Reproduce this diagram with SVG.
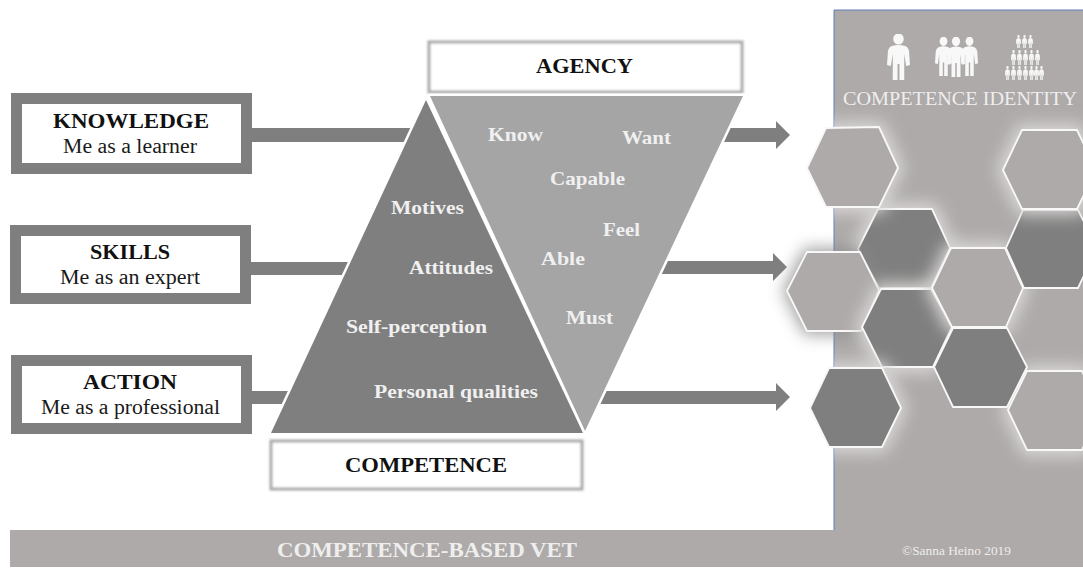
<svg xmlns="http://www.w3.org/2000/svg" width="1083" height="568" viewBox="0 0 1083 568">
<style>
text{font-family:"Liberation Serif","Times New Roman",serif;text-anchor:start}
.b{font-weight:700;font-size:22px;fill:#111}
.r{font-size:20px;fill:#1a1a1a}
.w{font-weight:700;font-size:19px;fill:#f0f0f0}
.frame{fill:#fff;stroke:#7f7f7f;stroke-width:11}
.soft{fill:#fff;stroke:#a9a9a9;stroke-width:3;filter:url(#s)}
.conn{fill:#7f7f7f}
.tri{stroke:#fff;stroke-width:5;paint-order:stroke;stroke-linejoin:round}
.glow{fill:#d9d7d6;stroke:#d9d7d6;stroke-width:12;filter:url(#g)}
.hex{stroke:#f8f8f8;stroke-width:1.8;stroke-linejoin:round}
.l{fill:#adaaa9}.d{fill:#7f7f7f}
.ic{fill:#f8f8f8}
</style>
<defs>
<filter id="s" x="-5%" y="-20%" width="110%" height="140%"><feGaussianBlur stdDeviation="0.8"/></filter>
<filter id="g" x="-40%" y="-40%" width="180%" height="180%"><feGaussianBlur stdDeviation="8"/></filter>
<filter id="sh" x="-40%" y="-40%" width="180%" height="180%"><feGaussianBlur stdDeviation="8"/></filter>
<clipPath id="pc"><rect x="834" y="10" width="249" height="520"/></clipPath>
<symbol id="p" viewBox="0 0 24 46" preserveAspectRatio="none"><circle cx="12" cy="5" r="5.500"/><path d="M5 12Q12 10 19 12Q22 13 23 17L24 31L20 32L18 20L18 46L13 46L13 30L11 30L11 46L6 46L6 20L4 32L0 31L1 17Q2 13 5 12Z"/></symbol>
<polygon id="h1" points="807,168 826,128 879,127 898,168 879,207 826,207"/>
<polygon id="h2" points="858,249 878,209 932,209 950,248 931,288 879,288"/>
<polygon id="h3" points="787,291 807,252 860,252 879,290 861,331 807,331"/>
<polygon id="h4" points="862,327 881,289 931,289 952,327 933,367 882,367"/>
<polygon id="h5" points="932,288 951,248 1005,248 1023,288 1006,327 952,327"/>
<polygon id="h6" points="934,367 953,328 1007,328 1027,367 1007,407 953,407"/>
<polygon id="h7" points="810,408 829,368 882,368 901,408 882,447 829,447"/>
<polygon id="h8" points="1003,170 1022,130 1077,130 1096,170 1077,209 1022,209"/>
<polygon id="h9" points="1006,248 1023,210 1078,210 1097,248 1078,288 1024,288"/>
<polygon id="h10" points="1008,410 1027,371 1082,371 1100,410 1082,450 1027,450"/>
</defs>
<rect width="1083" height="568" fill="#fff"/>
<g id="panel">
<rect x="834" y="10" width="249" height="520" fill="#adaaa9"/>
<path d="M834 530V10H1083" fill="none" stroke="#5f7fb8" stroke-width="1"/>
<rect x="10" y="530" width="1073" height="37" fill="#adaaa9"/>
</g>
<g id="identity-icons" class="ic">
<use href="#p" x="887" y="34" width="23" height="46"/>
<use href="#p" x="935" y="37" width="17" height="39"/>
<use href="#p" x="961" y="37" width="17" height="39"/>
<use href="#p" x="947" y="37" width="18" height="40"/>
<g>
<use href="#p" x="1016" y="35" width="5" height="13"/><use href="#p" x="1022" y="35" width="5" height="13"/><use href="#p" x="1028" y="35" width="5" height="13"/>
<use href="#p" x="1011" y="50" width="5" height="15"/><use href="#p" x="1017" y="50" width="5" height="15"/><use href="#p" x="1023" y="50" width="5" height="15"/><use href="#p" x="1029" y="50" width="5" height="15"/><use href="#p" x="1035" y="50" width="5" height="15"/>
<use href="#p" x="1005" y="66" width="5" height="14"/><use href="#p" x="1011" y="66" width="5" height="14"/><use href="#p" x="1017" y="66" width="5" height="14"/><use href="#p" x="1023" y="66" width="5" height="14"/><use href="#p" x="1029" y="66" width="5" height="14"/><use href="#p" x="1034" y="66" width="5" height="14"/><use href="#p" x="1039" y="66" width="5" height="14"/>
</g>
</g>
<g id="hexagons">
<g id="hex-2"><g clip-path="url(#pc)"><use href="#h2" class="glow"/></g><use href="#h2" class="hex d"/></g>
<g id="hex-3"><use href="#h3" fill="#8a8a8a" stroke="#8a8a8a" stroke-width="8" filter="url(#sh)" opacity=".8"/><use href="#h3" class="hex l"/></g>
<g id="hex-4"><g clip-path="url(#pc)"><use href="#h4" class="glow"/></g><use href="#h4" class="hex d"/></g>
<g id="hex-1"><g clip-path="url(#pc)"><use href="#h1" class="glow"/></g><use href="#h1" class="hex l"/></g>
<g id="hex-5"><g clip-path="url(#pc)"><use href="#h5" class="glow"/></g><use href="#h5" class="hex l"/></g>
<g id="hex-9"><use href="#h9" class="hex d"/></g>
<g id="hex-8"><g clip-path="url(#pc)"><use href="#h8" class="glow"/></g><use href="#h8" class="hex l"/></g>
<g id="hex-7"><g clip-path="url(#pc)"><use href="#h7" class="glow"/></g><use href="#h7" class="hex d"/></g>
<g id="hex-10"><g clip-path="url(#pc)"><use href="#h10" class="glow"/></g><use href="#h10" class="hex l"/></g>
<g id="hex-6"><use href="#h6" class="hex d"/></g>
</g>
<g id="connectors">
<rect class="conn" x="250" y="128" width="165" height="14"/>
<rect class="conn" x="250" y="262" width="105" height="13"/>
<rect class="conn" x="250" y="391" width="45" height="13"/>
<polygon class="conn" points="715,128 776,128 776,121 790,135 776,149 776,142 715,142"/>
<polygon class="conn" points="650,261 773,261 773,253 787,267 773,281 773,274 650,274"/>
<polygon class="conn" points="595,391 776,391 776,383 790,397 776,411 776,404 595,404"/>
</g>
<g id="knowledge"><rect class="frame" x="16.500" y="98.500" width="230" height="70"/><text class="b" x="53" y="128" textLength="156" lengthAdjust="spacingAndGlyphs">KNOWLEDGE</text><text class="r" x="63" y="153" textLength="134" lengthAdjust="spacingAndGlyphs">Me as a learner</text></g>
<g id="skills"><rect class="frame" x="15.500" y="230.500" width="230" height="68"/><text class="b" x="90" y="259" textLength="80" lengthAdjust="spacingAndGlyphs">SKILLS</text><text class="r" x="60" y="284" textLength="140" lengthAdjust="spacingAndGlyphs">Me as an expert</text></g>
<g id="action"><rect class="frame" x="16.500" y="360.500" width="230" height="68"/><text class="b" x="83" y="389" textLength="94" lengthAdjust="spacingAndGlyphs">ACTION</text><text class="r" x="41" y="414" textLength="179" lengthAdjust="spacingAndGlyphs">Me as a professional</text></g>
<g id="agency"><rect class="soft" x="429" y="42" width="313" height="50"/><text class="b" x="536" y="73" textLength="97" lengthAdjust="spacingAndGlyphs">AGENCY</text></g>
<g id="competence"><rect class="soft" x="271" y="441" width="311" height="48"/><text class="b" x="345" y="472" textLength="162" lengthAdjust="spacingAndGlyphs">COMPETENCE</text></g>
<g id="agency-triangle"><polygon class="tri" fill="#a5a5a5" points="430,96 743,96 585,431"/>
<text class="w" x="488" y="141" textLength="55" lengthAdjust="spacingAndGlyphs">Know</text>
<text class="w" x="622" y="144" textLength="49" lengthAdjust="spacingAndGlyphs">Want</text>
<text class="w" x="550" y="185" textLength="75" lengthAdjust="spacingAndGlyphs">Capable</text>
<text class="w" x="603" y="236" textLength="37" lengthAdjust="spacingAndGlyphs">Feel</text>
<text class="w" x="541" y="265" textLength="44" lengthAdjust="spacingAndGlyphs">Able</text>
<text class="w" x="566" y="324" textLength="47" lengthAdjust="spacingAndGlyphs">Must</text></g>
<g id="competence-triangle"><polygon class="tri" fill="#7f7f7f" points="426,100 583,433 271,433"/>
<text class="w" x="391" y="214" textLength="73" lengthAdjust="spacingAndGlyphs">Motives</text>
<text class="w" x="409" y="274" textLength="84" lengthAdjust="spacingAndGlyphs">Attitudes</text>
<text class="w" x="346" y="333" textLength="141" lengthAdjust="spacingAndGlyphs">Self-perception</text>
<text class="w" x="374" y="398" textLength="164" lengthAdjust="spacingAndGlyphs">Personal qualities</text></g>
<text x="843" y="105" font-size="18.500" fill="#efeeee" textLength="234" lengthAdjust="spacingAndGlyphs">COMPETENCE IDENTITY</text>
<text x="277" y="557" font-size="21" font-weight="700" fill="#efeeee" textLength="300" lengthAdjust="spacingAndGlyphs">COMPETENCE-BASED VET</text>
<text x="902" y="555" font-size="13" fill="#efeeee" textLength="109" lengthAdjust="spacingAndGlyphs">©Sanna Heino 2019</text>
</svg>
